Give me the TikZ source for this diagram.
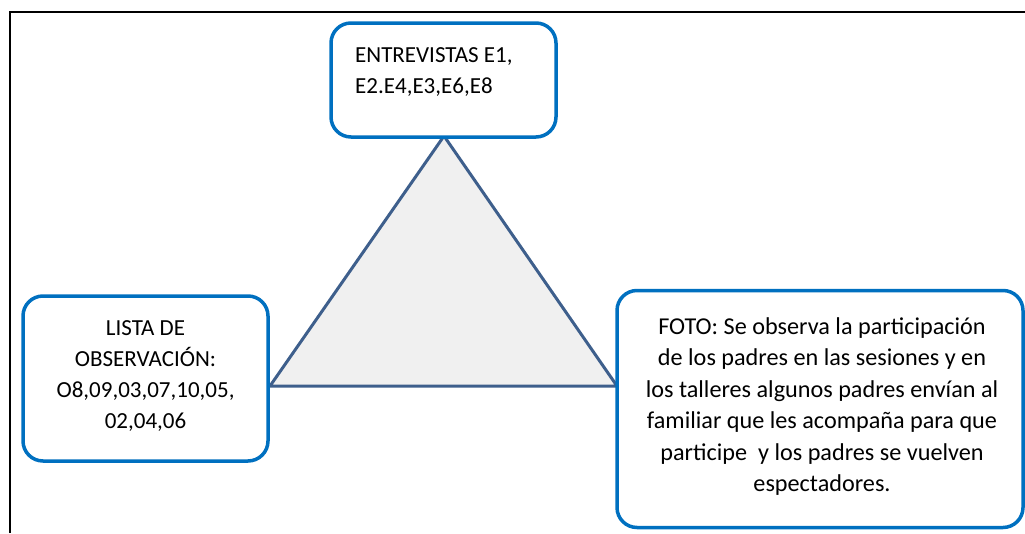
\documentclass[tikz,border=0pt]{standalone}
\usepackage{fontspec}
\setmainfont{Carlito}
\definecolor{boxblue}{HTML}{0070C0}
\definecolor{triblue}{HTML}{3E5F8C}
\definecolor{trifill}{HTML}{F0F0F0}
\begin{document}
\begin{tikzpicture}[x=1pt,y=-1pt,
  box/.style={draw=boxblue, line width=3.5pt, fill=white, rounded corners=20pt, inner sep=0pt},
  txt/.style={font=\fontsize{23}{30.8}\selectfont, inner sep=0pt, align=center},
  bigtxt/.style={font=\fontsize{24.2}{31.4}\selectfont, inner sep=0pt, align=center},
  tri/.style={draw=triblue, line width=3pt, fill=trifill, line join=miter}]
\useasboundingbox (0,0) rectangle (1025,533);
% frame
\draw[line width=2pt, black] (10,533) -- (10,12) -- (1025,12);
% triangle
\coordinate (A) at (444,136);
\coordinate (B) at (270,386);
\coordinate (C) at (617,386);
\draw[tri] (A) -- (B) -- (C) -- cycle;
% boxes
\node[box, minimum width=225pt, minimum height=114pt] (top) at (443.5,80) {};
\node[txt, anchor=west, align=left] (toptext) at (355,72) {ENTREVISTAS E1,\\E2.E4,E3,E6,E8};
\node[box, minimum width=245pt, minimum height=165pt] (lst) at (145.5,378.5) {};
\node[txt] (lsttext) at (145.5,376) {LISTA DE\\OBSERVACIÓN:\\O8,09,03,07,10,05,\\02,04,06};
\node[box, minimum width=406pt, minimum height=237pt] (foto) at (820,409) {};
\node[bigtxt] (fototext) at (822,406.5) {FOTO: Se observa la participación\\de los padres en las sesiones y en\\los talleres algunos padres envían al\\familiar que les acompaña para que\\participe\ \ y los padres se vuelven\\espectadores.};
\end{tikzpicture}
\end{document}
